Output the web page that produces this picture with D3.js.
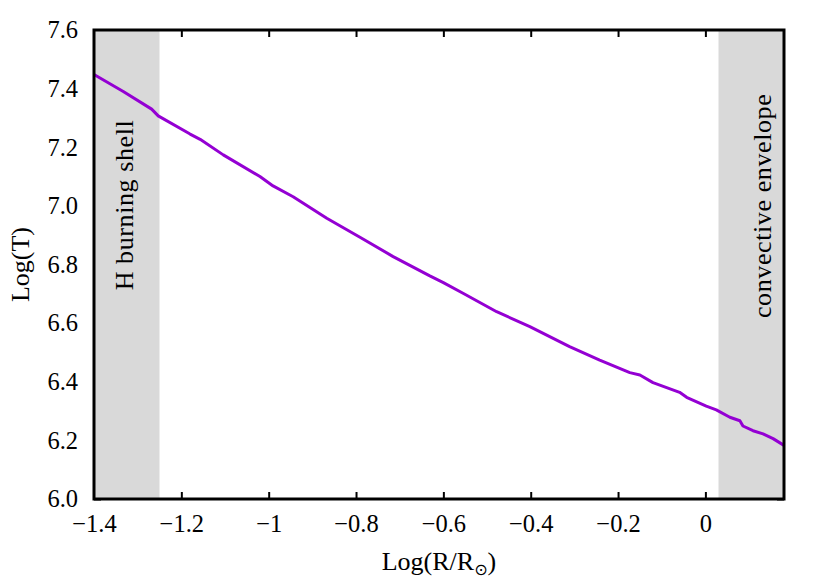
<!DOCTYPE html>
<html>
<head>
<meta charset="utf-8">
<script src="https://cdn.jsdelivr.net/npm/d3@7"></script>
<style>
  body { margin: 0; background: #fff; }
  text { font-family: "Liberation Serif", "DejaVu Serif", serif; fill: #000; }
</style>
</head>
<body>
<svg id="chart"></svg>
<script>
const w = 830;
const h = 581;
const margin = { top: 30, right: 46, bottom: 82, left: 94 };

// temperature profile
const logR = [-1.4, -1.333, -1.268, -1.253, -1.180, -1.157, -1.104, -1.020, -0.990, -0.944,
  -0.867, -0.791, -0.715, -0.631, -0.600, -0.555, -0.478, -0.402, -0.311, -0.242,
  -0.173, -0.150, -0.120, -0.059, -0.043, 0.002, 0.025, 0.056, 0.079, 0.086,
  0.109, 0.132, 0.155, 0.18];
const logT = [7.448, 7.390, 7.330, 7.307, 7.245, 7.227, 7.174, 7.100, 7.068, 7.031,
  6.958, 6.893, 6.827, 6.761, 6.738, 6.702, 6.639, 6.588, 6.520, 6.474,
  6.431, 6.423, 6.397, 6.364, 6.347, 6.317, 6.304, 6.279, 6.267, 6.249,
  6.233, 6.222, 6.206, 6.183];

const regionStart = [-1.4, 0.03];
const regionEnd = [-1.25, 0.18];
const regionLabels = ["H burning shell", "convective envelope"];
// label anchor (baseline x, centre y) in data units
const regionLabelX = [-1.311, 0.150];
const regionLabelY = [7.003, 7.0];

const xTicks = [-1.4, -1.2, -1, -0.8, -0.6, -0.4, -0.2, 0];
const yTicks = [6.0, 6.2, 6.4, 6.6, 6.8, 7.0, 7.2, 7.4, 7.6];

const svg = d3.select("#chart")
  .attr("width", w)
  .attr("height", h);

const x = d3.scaleLinear()
  .domain([-1.4, 0.18])
  .range([margin.left, w - margin.right]);

const y = d3.scaleLinear()
  .domain([6.0, 7.6])
  .range([h - margin.bottom, margin.top]);

const fmtX = d => d === 0 ? "0" : (d < 0 ? "\u2212" : "") + d3.format("~g")(Math.abs(d));

// axes with inward ticks
const xAxis = d3.axisBottom(x).tickValues(xTicks).tickFormat(fmtX)
  .tickSizeInner(-7).tickSizeOuter(0).tickPadding(16);
const yAxis = d3.axisLeft(y).tickValues(yTicks).tickFormat(d3.format(".1f"))
  .tickSizeInner(-7).tickSizeOuter(0).tickPadding(16);

svg.append("g")
  .attr("transform", `translate(0, ${h - margin.bottom})`)
  .call(xAxis);
svg.append("g")
  .attr("transform", `translate(0, ${margin.top})`)
  .call(d3.axisTop(x).tickValues(xTicks).tickFormat("").tickSizeInner(-7).tickSizeOuter(0));
svg.append("g")
  .attr("transform", `translate(${margin.left}, 0)`)
  .call(yAxis);
svg.append("g")
  .attr("transform", `translate(${w - margin.right}, 0)`)
  .call(d3.axisRight(y).tickValues(yTicks).tickFormat("").tickSizeInner(-7).tickSizeOuter(0));

svg.selectAll(".domain").remove();
svg.selectAll(".tick line").attr("stroke", "#000").attr("stroke-width", 2);
svg.selectAll(".tick text").style("font-size", "24.5px")
  .style("font-family", "'Liberation Serif', serif");

// shaded regions
svg.selectAll("rect.region")
  .data(regionStart)
  .enter()
  .append("rect")
  .attr("class", "region")
  .attr("x", (d, i) => x(d))
  .attr("y", margin.top)
  .attr("width", (d, i) => x(regionEnd[i]) - x(d))
  .attr("height", h - margin.bottom - margin.top)
  .attr("fill", "#d9d9d9");

svg.selectAll("text.region")
  .data(regionLabels)
  .enter()
  .append("text")
  .attr("class", "region")
  .attr("transform", (d, i) =>
    `translate(${x(regionLabelX[i])}, ${y(regionLabelY[i])}) rotate(-90)`)
  .attr("text-anchor", "middle")
  .style("font-size", "26px")
  .style("letter-spacing", "0.6px")
  .text(d => d);

// the profile
const line = d3.line()
  .x((d, i) => x(logR[i]))
  .y(d => y(d));

svg.append("path")
  .datum(logT)
  .attr("d", line)
  .attr("fill", "none")
  .attr("stroke", "#9400d3")
  .attr("stroke-width", 3)
  .attr("stroke-linejoin", "round");

// frame
svg.append("rect")
  .attr("x", margin.left)
  .attr("y", margin.top)
  .attr("width", w - margin.left - margin.right)
  .attr("height", h - margin.top - margin.bottom)
  .attr("fill", "none")
  .attr("stroke", "#000")
  .attr("stroke-width", 3);

// axis titles
const xTitle = svg.append("text")
  .attr("x", (margin.left + w - margin.right) / 2)
  .attr("y", 570)
  .attr("text-anchor", "middle")
  .style("font-size", "26px");
xTitle.append("tspan").text("Log(R/R");
xTitle.append("tspan").attr("dy", 5).style("font-size", "16px")
  .style("font-family", "'DejaVu Sans', sans-serif").text("\u2299");
xTitle.append("tspan").attr("dy", -5).text(")");

svg.append("text")
  .attr("transform", `translate(29, ${(margin.top + h - margin.bottom) / 2}) rotate(-90)`)
  .attr("text-anchor", "middle")
  .style("font-size", "26px")
  .text("Log(T)");
</script>
</body>
</html>
